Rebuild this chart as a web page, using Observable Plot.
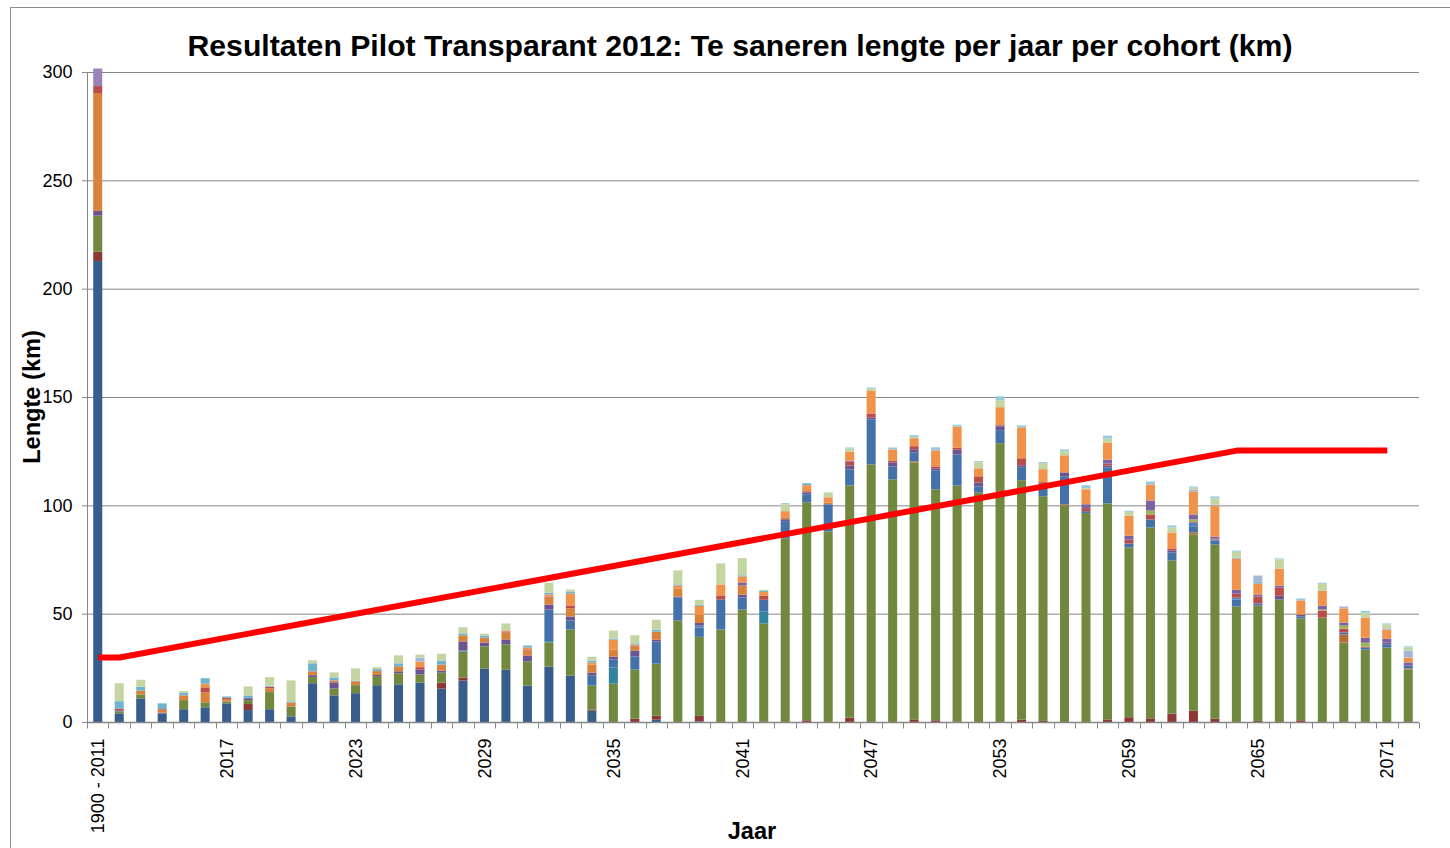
<!DOCTYPE html>
<html>
<head>
<meta charset="utf-8">
<script src="https://cdn.jsdelivr.net/npm/d3@7"></script>
<script src="https://cdn.jsdelivr.net/npm/@observablehq/plot@0.6"></script>
<style>
  html, body { margin: 0; padding: 0; background: #ffffff; }
  #wrap { position: relative; width: 1450px; height: 848px; overflow: hidden; font-family: "Liberation Sans", Arial, sans-serif; color: #000; }
  #frame { position: absolute; left: 10px; top: 7px; width: 1500px; height: 900px; border-left: 1px solid #8c8c8c; border-top: 1px solid #8c8c8c; }
  #chart { position: absolute; left: 0; top: 0; }
  #title { position: absolute; left: 0; width: 1480px; top: 31px; text-align: center; font-weight: bold; font-size: 30.2px; line-height: 30px; white-space: nowrap; }
  #ylabel { position: absolute; left: 32px; top: 397px; transform: translate(-50%, -50%) rotate(-90deg); font-weight: bold; font-size: 23.6px; line-height: 24px; white-space: nowrap; }
  #xlabel { position: absolute; left: 752px; top: 831px; transform: translate(-50%, -50%); font-weight: bold; font-size: 23.6px; line-height: 24px; white-space: nowrap; }
</style>
</head>
<body>
<div id="wrap">
  <div id="frame"></div>
  <div id="chart"></div>
  <div id="title">Resultaten Pilot Transparant 2012: Te saneren lengte per jaar per cohort (km)</div>
  <div id="ylabel">Lengte (km)</div>
  <div id="xlabel">Jaar</div>
</div>
<script>
// ---- Categories (years) ----
const categories = ["1900 - 2011",
  "2012","2013","2014","2015","2016","2017","2018","2019","2020","2021",
  "2022","2023","2024","2025","2026","2027","2028","2029","2030","2031",
  "2032","2033","2034","2035","2036","2037","2038","2039","2040","2041",
  "2042","2043","2044","2045","2046","2047","2048","2049","2050","2051",
  "2052","2053","2054","2055","2056","2057","2058","2059","2060","2061",
  "2062","2063","2064","2065","2066","2067","2068","2069","2070","2071","2072"];

const xTickLabels = ["1900 - 2011","2017","2023","2029","2035","2041","2047","2053","2059","2065","2071"];
const yTicks = [0, 50, 100, 150, 200, 250, 300];

// ---- Stacked series (km), bottom to top ----
const seriesNames = ["Cohort 1","Cohort 2","Cohort 3","Cohort 4","Cohort 5","Cohort 6","Cohort 7","Cohort 8","Cohort 9",
  "Cohort 10","Cohort 11","Cohort 12","Cohort 13","Cohort 14","Cohort 15","Cohort 16","Cohort 17","Cohort 18"];
const seriesColors = ["#385D8A","#8C3836","#71893F","#31849B","#B66D31","#4371A8","#4F81BD","#6B5590","#D8823C",
  "#BA4D4A","#98B954","#7D62A1","#F0924A","#6DB4CC","#A5B7D9","#C3D5A3","#98CADB","#9983B6"];

const s1 = [212.8,4.0,10.9,3.9,5.9,6.8,8.6,5.5,5.9,2.6,
  17.9,12.3,13.3,17.0,17.4,18.2,15.4,19.1,24.7,24.2,
  16.8,25.6,21.4,5.2,0,0,1.1,0,0.3,0,
  0,0,0,0,0,0,0,0,0,0,
  0,0,0,0,0,0,0,0,0,0,
  0,0,0,0,0,0,0,0,0,0,
  0,0];
const s2 = [4.3,0,0,0,0,0,0,2.8,0,0,
  0,0,0,0,0,0,2.8,1.4,0,0,
  0,0,0,0.5,0,1.5,1.8,0,2.5,0,
  0,0.3,0,0.8,0,2.0,0,0,1.2,0.8,
  0.3,0,0,1.1,0.5,0,0,1.2,2.2,1.7,
  3.9,5.2,1.5,0,0.5,0,0.8,0,0,0,
  0,0];
const s3 = [16.6,0.9,1.8,0,4.2,2.3,0.9,1.8,7.9,4.6,
  2.8,3.2,3.7,4.2,5.1,3.7,4.6,12.0,10.2,11.6,
  11.1,11.1,21.3,11.1,17.7,22.7,24.0,46.8,36.5,42.7,
  51.9,45.1,84.8,100.6,88.0,107.2,118.9,112.0,118.6,106.6,
  108.8,106.0,128.7,110.5,103.7,100.0,96.4,99.7,78.4,88.1,
  70.7,81.4,80.4,53.3,53.3,56.5,47.0,48.2,36.7,33.4,
  34.4,24.2];
const s4 = [0,0,0,0,0,0,0,0,0,0,
  0,0,0,0,0,0,0,0.5,0,0,
  0,0.6,0,0,7.4,0,0,0,0,0,
  0,5.5,0,0,0,0,0,0,0,0,
  0,0,0,0,0,0,0,0,0,0,
  0,0,0,0,0,0,0,0,0,0,
  0,0];
const s5 = [0,0,0,0,0,0,0,0,0,0,
  0,0,0,0,0,0,0,0,0,0,
  0,0,0,0,0,0,0,0,0,0,
  0,0,0,0,0,0,0,0,0.5,0,
  0,0,0,0,0,0.5,0,0,0,0,
  0,0.9,0,0,0,0,0,0,3.7,0,
  0,0.5];
const s6 = [0,0,0,0,0,0,0,0,0,0,
  0,0,0,0,0,0,0,0,0,0,
  0,14.6,4.2,4.6,3.7,6.0,10.2,10.6,4.3,13.9,
  5.5,5.5,7.9,3.7,12.5,7.4,20.8,6.0,4.2,8.8,
  14.3,2.8,6.0,6.0,6.0,12.9,0.9,16.6,1.8,3.7,
  3.7,2.8,1.8,3.2,0.9,0,0.9,0,0.9,0.9,
  1.4,1.4];
const s7 = [0,0,0,0,0,0,0,0,0,0,
  0,0,0,0,0,0,0,0,0,0,
  0,0,0,0,0,0,0,0,0.9,0,
  0,0,0,0,0,0,0,0,0,0,
  0,0,0,0,0,0,0,0,0,0,
  0,1.8,0.5,0.9,0,0,0,0,0,0,
  0,0];
const s8 = [2.2,0.5,0,0.4,0,0,0,0.9,0,0,
  0.9,2.8,0,0.5,0.9,2.3,0.9,4.2,1.8,2.3,
  2.8,2.3,1.8,1.4,1.4,2.8,0.9,0.5,1.2,0,
  1.4,0,0.9,0.9,0,1.8,0.9,1.8,1.4,0.9,
  2.3,1.8,1.8,0.9,0,1.8,0,0.9,0,0,
  0.9,0,0,0,0,1.8,0.9,0,0,0,
  0.9,0];
const s9 = [54.4,0,1.8,1.4,2.2,4.6,0.9,0,1.8,1.8,
  1.8,0.9,1.8,1.8,2.3,0,2.8,2.8,2.3,3.2,
  2.3,3.2,3.7,3.7,3.2,1.8,3.7,3.7,3.7,0,
  4.2,0,0.9,0,0.9,0,0,0,0,0,
  0,0,0,0,0,0,0,0,0,0,
  0,0,0,0,0,0,0,0,0,0,
  0,0];
const s10 = [3.2,0.8,0,0.3,0,2.3,0.8,0,0.6,0,
  0,0,0,0,0,1.1,0,0,0,0.5,
  0.5,0.5,1.4,0,0,0.5,0,0,0,1.8,
  0,1.8,0,0.5,0,1.8,1.8,0.9,1.4,0.9,
  0.9,2.8,0,3.2,0.5,0,1.4,0.9,1.8,2.3,
  0.9,0.5,0.5,1.8,3.2,3.7,0,3.2,1.8,0.5,
  0,0];
const s11 = [0,0,0,0,0,0,0,0,0,0,
  0,0,0,0,0,0,0,0,0,0,
  0,0,0,0,0,0,0,0,0,0,
  0,0,0,0,0,0,0,0,0,0,
  0,0,0,0,0,0,0,0,0,1.8,
  0,0.9,0,0,0,0,0,0.5,1.4,1.8,
  0,0];
const s12 = [0,0,0,0,0,0,0,0,0,0,
  0,0,0,0,0,0,0,0,0,0,
  0,0,0,0,0,0,0,0,0,0,
  1.4,0,0,0,0,0.4,0,0,0,0,
  0,0,0.5,0,0,0,1.8,1.8,1.8,4.6,
  0,2.3,0.9,1.8,0.9,0.9,0,1.8,1.4,2.3,
  1.8,1.4];
const s13 = [0,0,0,0,0,1.7,0,0,0,0,
  0,0,0,0,0,2.6,0,0,0,0.5,
  0.9,0.9,5.5,0.9,4.6,0.5,0,1.4,4.2,5.1,
  2.8,1.8,2.8,2.8,2.3,4.2,10.6,5.1,3.7,7.4,
  9.7,3.7,8.3,14.3,6.0,7.9,6.9,7.9,9.2,7.4,
  7.4,10.6,14.3,14.3,5.1,7.9,6.5,6.9,6.5,9.2,
  4.2,2.3];
const s14 = [0,3.4,1.8,2.6,1.1,2.5,0.6,1.2,0,0.5,
  3.7,1.4,0.3,0.9,1.4,0,1.8,0.9,0.9,0,
  0.9,0.9,0.9,0.9,0.5,0.5,0.9,0.5,0.5,0,
  0.5,0.5,0,0.9,0,0,0,0,0,0,
  0,0,0,0,0,0,0,0,0,0,
  0,0,0,0,0.9,0,0,0,0,0,
  0,0];
const s15 = [0,0,0,0,0,0,0,0,0.6,0,
  0,0,0,0,0,1.8,0,0,0,0,
  0,0,0,0,0,0,0,0,0,0,
  0,0,0,0,0,0,0,0,0,0,
  0,0,0,0,0,0,0,0,0,0,
  0,0.9,0.5,0.5,2.8,0,0,0,0.9,0,
  0.5,3.2];
const s16 = [0,8.3,3.2,0,0.9,0,0,4.2,3.9,9.7,
  1.4,2.3,5.7,0.9,3.7,1.4,3.2,2.8,0.9,3.2,
  0,4.6,0.9,1.8,3.7,3.7,4.6,6.5,2.3,9.7,
  7.9,0.5,3.2,0,2.3,1.4,0.9,0,0.5,0,
  0,2.8,3.2,0,2.8,1.8,0.5,1.8,1.8,0,
  2.3,0.9,2.8,2.8,0,4.2,0,3.2,0,2.3,
  1.8,1.4];
const s17 = [0,0,0,0,0,0,0,0,0,0,
  0,0,0,0,0,0,0,0,0,0,
  0,0,0,0,0,0,0,0,0,0,
  0,0,0.5,0,0,0.5,0.5,0.9,0.9,1.4,
  0.9,0.5,1.8,0.9,0.5,0.9,1.4,1.4,0.5,1.4,
  0.9,0.5,0.9,0.5,0,0.5,0.9,0.5,0,0.9,
  0.5,0.5];
const s18 = [8.1,0,0,0,0,0,0,0,0,0,
  0,0,0,0,0,0,0,0,0,0,
  0,0,0,0,0,0,0,0,0,0,
  0,0,0,0,0,0,0,0,0,0,
  0,0,0,0,0,0,0,0,0,0,
  0,0,0,0,0,0,0,0,0,0,
  0,0];

// ---- Target line (km) ----
const targetCats = ["1900 - 2011", "2012", "2064", "2071"];
const targetValues = [30, 30, 125.5, 125.5];

// ---- Build tables ----
const seriesValues = [s1,s2,s3,s4,s5,s6,s7,s8,s9,s10,s11,s12,s13,s14,s15,s16,s17,s18];
const rows = [];
seriesNames.forEach((name, k) => {
  seriesValues[k].forEach((v, i) => rows.push({cat: categories[i], series: name, value: v}));
});
const target = targetCats.map((c, i) => ({cat: c, value: targetValues[i]}));

function axisLines(index, scales, values, dims) {
  const {width, height, marginLeft, marginRight, marginTop, marginBottom} = dims;
  const g = d3.create("svg:g").attr("stroke", "#868686").attr("fill", "none").attr("stroke-width", 1);
  const y0 = height - marginBottom + 0.5;
  g.append("line").attr("x1", marginLeft + 0.5).attr("x2", marginLeft + 0.5).attr("y1", marginTop).attr("y2", y0);
  g.append("line").attr("x1", marginLeft).attr("x2", width - marginRight).attr("y1", y0).attr("y2", y0).attr("stroke-width", 1.5);
  const step = (width - marginLeft - marginRight) / categories.length;
  for (let k = 0; k <= categories.length; k++) {
    const x = Math.round(marginLeft + k * step) + 0.5;
    g.append("line").attr("x1", x).attr("x2", x).attr("y1", y0).attr("y2", y0 + 6);
  }
  return g.node();
}

const chart = Plot.plot({
  width: 1450,
  height: 848,
  marginTop: 72,
  marginBottom: 126,
  marginLeft: 87,
  marginRight: 31,
  style: {fontFamily: "'Liberation Sans', Arial, sans-serif", background: "transparent", color: "#000"},
  x: {domain: categories, paddingInner: 0.58, paddingOuter: 0.29, round: false, label: null},
  y: {domain: [0, 300], label: null},
  color: {domain: seriesNames, range: seriesColors},
  marks: [
    Plot.gridY(yTicks, {stroke: "#868686", strokeOpacity: 1, strokeWidth: 1}),
    Plot.axisY(yTicks, {tickSize: 5, tickPadding: 10, fontSize: 18, stroke: "#868686", fill: "#000", label: null}),
    Plot.barY(rows, {x: "cat", y: "value", fill: "series"}),
    axisLines,
    Plot.line(target, {x: "cat", y: "value", stroke: "#FF0000", strokeWidth: 6, strokeLinecap: "butt", strokeLinejoin: "miter"}),
    Plot.axisX(xTickLabels, {tickSize: 0, tickPadding: 16, tickRotate: -90, fontSize: 18, fill: "#000", label: null})
  ]
});
document.getElementById("chart").appendChild(chart);
</script>
</body>
</html>
